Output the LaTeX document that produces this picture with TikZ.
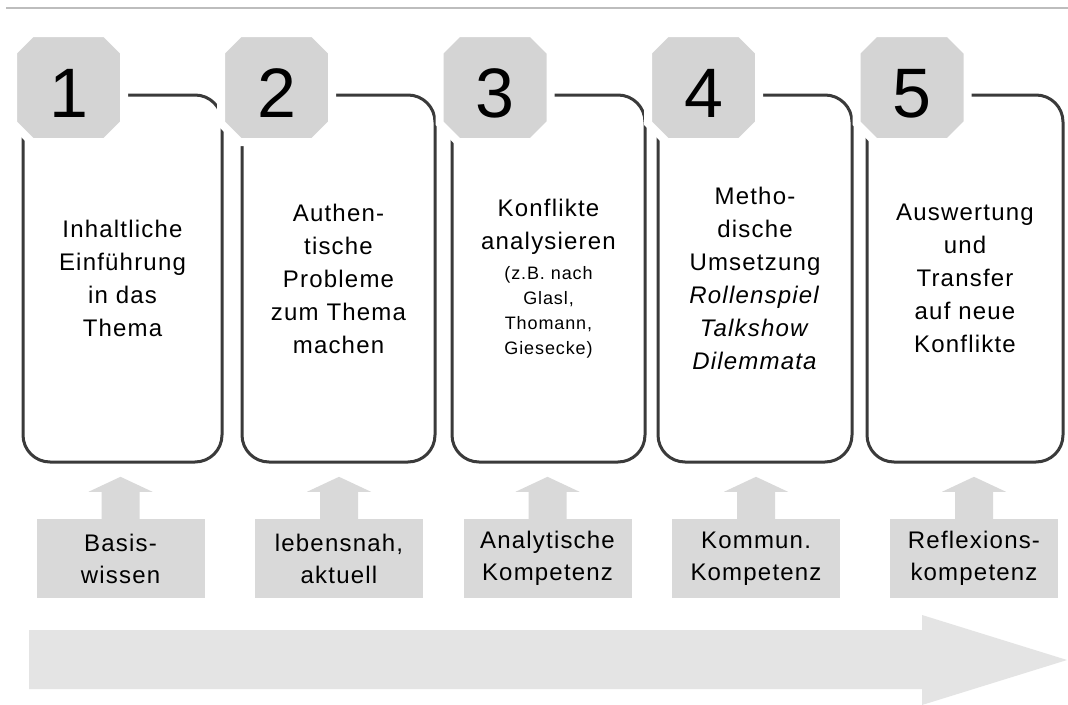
\documentclass[tikz,border=0pt]{standalone}
\usepackage{fontspec}
\setmainfont{Liberation Sans}[LetterSpace=5]
\newfontfamily\numfont{Liberation Sans}
\usetikzlibrary{calc}
\definecolor{boxline}{HTML}{3A3A3A}
\definecolor{octfill}{HTML}{D4D4D4}
\definecolor{labfill}{HTML}{D9D9D9}
\definecolor{bigfill}{HTML}{E4E4E4}
\definecolor{rulegray}{HTML}{BDBDBD}
\newcommand\smallfnt{\fontsize{18}{33}\selectfont}
\begin{document}
\begin{tikzpicture}[x=1pt,y=1pt,
  stepbox/.style={draw=boxline, line width=3pt, rounded corners=27pt, minimum height=367pt,
    align=center, font=\fontsize{24}{33}\selectfont, inner sep=0pt},
  labbox/.style={fill=labfill, minimum width=168pt, minimum height=79pt, align=center,
    font=\fontsize{24}{32}\selectfont, inner sep=0pt},
  numtext/.style={font=\numfont\fontsize{70}{70}\selectfont, anchor=base, inner sep=0pt},
  octa/.style={fill=octfill, draw=white, line width=8pt},
  uparrow/.style={fill=labfill},
  bigarrow/.style={fill=bigfill},
]
\useasboundingbox (0,0) rectangle (1068,-704);
\fill[white] (0,0) rectangle (1068,-704);
\draw[rulegray, line width=2pt] (6,-8) -- (1068,-8);

% step boxes
\node[stepbox, minimum width=199pt] (box1) at (122.5,-278.5) {Inhaltliche\\Einführung\\in das\\Thema};
\node[stepbox, minimum width=193pt] (box2) at (338.5,-278.5) {Authen-\\tische\\Probleme\\zum Thema\\machen};
\node[stepbox, minimum width=193pt] (box3) at (548.5,-278.5) {Konflikte\\analysieren\\[-3pt]\smallfnt (z.B. nach\\[-8pt]\smallfnt Glasl,\\[-8pt]\smallfnt Thomann,\\[-8pt]\smallfnt Giesecke)};
\node[stepbox, minimum width=194pt] (box4) at (755,-278.5) {Metho-\\dische\\Umsetzung\\\textit{Rollenspiel}\\\textit{Talkshow}\\\textit{Dilemmata}};
\node[stepbox, minimum width=196pt] (box5) at (965,-278.5) {Auswertung\\und\\Transfer\\auf neue\\Konflikte};

% octagon badges
\foreach \cx in {68.5,276.5,495,703.5,912} {
  \path[octa] (\cx-55.5,-87.5+35.8) -- (\cx-55.5,-87.5-35.8) -- (\cx-36.8,-87.5-54.5)
    -- (\cx+36.8,-87.5-54.5) -- (\cx+55.5,-87.5-35.8) -- (\cx+55.5,-87.5+35.8)
    -- (\cx+36.8,-87.5+54.5) -- (\cx-36.8,-87.5+54.5) -- cycle;
}
\node[numtext] (n1) at (68.5,-117) {1};
\node[numtext] (n2) at (276.5,-117) {2};
\node[numtext] (n3) at (495,-117) {3};
\node[numtext] (n4) at (703.5,-117) {4};
\node[numtext] (n5) at (912,-117) {5};

% competence labels
\node[labbox] (lab1) at (120.5,-558.5) {Basis-\\wissen};
\node[labbox] (lab2) at (339,-558.5) {lebensnah,\\aktuell};
\node[labbox] (lab3) at (547.5,-558.5) {Analytische\\Kompetenz};
\node[labbox] (lab4) at (756,-558.5) {Kommun.\\Kompetenz};
\node[labbox] (lab5) at (974,-558.5) {Reflexions-\\kompetenz};

% up arrows
\foreach \i in {1,...,5} {
  \fill[uparrow] ($(lab\i.north)+(-19,-1)$) -- ++(0,28) -- ++(-13,0)
    -- ($(lab\i.north)+(0,42)$) -- ($(lab\i.north)+(32,27)$) -- ++(-13,0)
    -- ++(0,-28) -- cycle;
}

% big progress arrow
\fill[bigarrow] (29,-630) -- (922,-630) -- (922,-615) -- (1067,-660)
  -- (922,-705) -- (922,-689) -- (29,-689) -- cycle;
\end{tikzpicture}
\end{document}
